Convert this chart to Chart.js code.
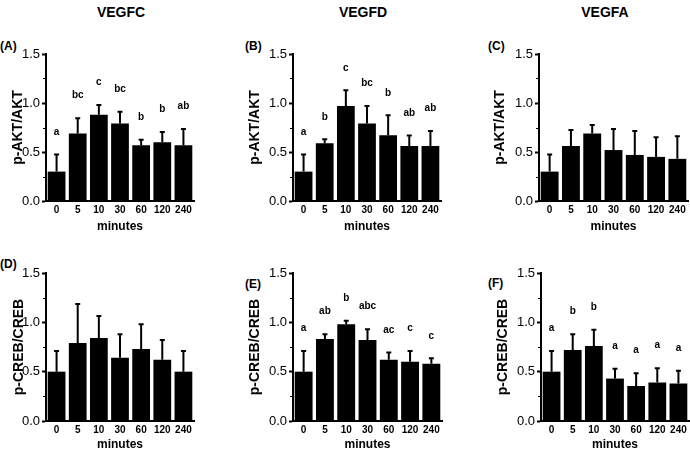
<!DOCTYPE html>
<html>
<head>
<meta charset="utf-8">
<script src="https://cdn.jsdelivr.net/npm/chart.js@4/dist/chart.umd.min.js"></script>
<style>
  body { margin: 0; background: #fff; }
  #wrap { position: relative; width: 690px; height: 450px; background: #fff; font-family: "Liberation Sans", Arial, sans-serif; color: #000; }
  #wrap canvas { position: absolute; }
  .head { position: absolute; font-size: 14px; font-weight: bold; transform: translate(-50%, -50%); white-space: nowrap; }
  .tag { position: absolute; font-size: 12px; font-weight: bold; transform: translateY(-50%); white-space: nowrap; }
</style>
</head>
<body>
<div id="wrap">
  <div class="head" style="left:121px; top:12px;">VEGFC</div>
  <div class="head" style="left:363px; top:12px;">VEGFD</div>
  <div class="head" style="left:605px; top:12px;">VEGFA</div>
  <div class="tag" style="left:0px; top:46px;">(A)</div>
  <div class="tag" style="left:245px; top:46px;">(B)</div>
  <div class="tag" style="left:488px; top:46px;">(C)</div>
  <div class="tag" style="left:0px; top:264px;">(D)</div>
  <div class="tag" style="left:245px; top:284px;">(E)</div>
  <div class="tag" style="left:488px; top:283px;">(F)</div>
</div>
<script>
// time points (minutes)
var minutes = ["0", "5", "10", "30", "60", "120", "240"];
var yTicks = [0, 0.5, 1.0, 1.5];

// p-AKT/AKT, mean and SEM
var aktVEGFC = [0.30, 0.69, 0.88, 0.79, 0.57, 0.60, 0.57];
var aktVEGFCsem = [0.18, 0.16, 0.105, 0.125, 0.06, 0.11, 0.17];
var aktVEGFCletters = ["a", "bc", "c", "bc", "b", "b", "ab"];

var aktVEGFD = [0.30, 0.59, 0.97, 0.79, 0.67, 0.56, 0.56];
var aktVEGFDsem = [0.18, 0.045, 0.165, 0.185, 0.21, 0.113, 0.16];
var aktVEGFDletters = ["a", "b", "c", "bc", "b", "ab", "ab"];

var aktVEGFA = [0.30, 0.56, 0.69, 0.52, 0.47, 0.45, 0.43];
var aktVEGFAsem = [0.18, 0.17, 0.09, 0.22, 0.25, 0.205, 0.235];

// p-CREB/CREB, mean and SEM
var crebVEGFC = [0.50, 0.79, 0.84, 0.64, 0.73, 0.62, 0.50];
var crebVEGFCsem = [0.215, 0.40, 0.23, 0.245, 0.255, 0.205, 0.215];

var crebVEGFD = [0.50, 0.83, 0.98, 0.82, 0.62, 0.60, 0.58];
var crebVEGFDsem = [0.215, 0.055, 0.04, 0.115, 0.08, 0.115, 0.06];
var crebVEGFDletters = ["a", "ab", "b", "abc", "ac", "c", "c"];

var crebVEGFA = [0.50, 0.72, 0.76, 0.43, 0.355, 0.39, 0.38];
var crebVEGFAsem = [0.215, 0.165, 0.17, 0.105, 0.135, 0.15, 0.135];
var crebVEGFAletters = ["a", "b", "b", "a", "a", "a", "a"];

Chart.defaults.font.family = "'Liberation Sans', Arial, sans-serif";
Chart.defaults.color = "#000";

// error bars (upper half only), minor ticks and letters
var extras = {
  id: "extras",
  afterDatasetsDraw: function (chart, args, opts) {
    var ctx = chart.ctx;
    var y = chart.scales.y;
    var bars = chart.getDatasetMeta(0).data;
    ctx.save();
    ctx.strokeStyle = "#000";
    ctx.fillStyle = "#000";
    bars.forEach(function (bar, i) {
      var top = y.getPixelForValue(opts.means[i] + opts.sem[i]);
      ctx.lineWidth = 2;
      ctx.beginPath();
      ctx.moveTo(bar.x, bar.y);
      ctx.lineTo(bar.x, top);
      ctx.moveTo(bar.x - 2.5, top + 0.5);
      ctx.lineTo(bar.x + 2.5, top + 0.5);
      ctx.stroke();
      if (opts.letters) {
        ctx.font = "bold 10px 'Liberation Sans', Arial, sans-serif";
        ctx.textAlign = "center";
        ctx.textBaseline = "middle";
        ctx.fillText(opts.letters[i], bar.x, top - 22);
      }
    });
    // minor ticks on y axis
    var left = chart.chartArea.left;
    ctx.lineWidth = 1;
    [0.25, 0.75, 1.25].forEach(function (v) {
      var py = Math.round(y.getPixelForValue(v)) + 0.5;
      ctx.beginPath();
      ctx.moveTo(left - 3, py);
      ctx.lineTo(left, py);
      ctx.stroke();
    });
    ctx.restore();
  }
};

var panels = [
  { left: 0, top: 25, w: 230, h: 210, pad: { left: 10, right: 36, top: 29, bottom: 3 }, yw: 36, xh: 31,
    title: "p-AKT/AKT", means: aktVEGFC, sem: aktVEGFCsem, letters: aktVEGFCletters },
  { left: 230, top: 25, w: 230, h: 210, pad: { left: 17, right: 19, top: 29, bottom: 3 }, yw: 46, xh: 31,
    title: "p-AKT/AKT", means: aktVEGFD, sem: aktVEGFDsem, letters: aktVEGFDletters },
  { left: 460, top: 25, w: 230, h: 210, pad: { left: 32, right: 2, top: 29, bottom: 3 }, yw: 47, xh: 31,
    title: "p-AKT/AKT", means: aktVEGFA, sem: aktVEGFAsem, letters: null },
  { left: 0, top: 245, w: 230, h: 205, pad: { left: 11, right: 36, top: 28, bottom: 0 }, yw: 35, xh: 29,
    title: "p-CREB/CREB", means: crebVEGFC, sem: crebVEGFCsem, letters: null },
  { left: 230, top: 245, w: 230, h: 205, pad: { left: 17, right: 18, top: 28, bottom: 0 }, yw: 46, xh: 29,
    title: "p-CREB/CREB", means: crebVEGFD, sem: crebVEGFDsem, letters: crebVEGFDletters },
  { left: 460, top: 245, w: 230, h: 205, pad: { left: 35, right: 1, top: 28, bottom: 0 }, yw: 46, xh: 29,
    title: "p-CREB/CREB", means: crebVEGFA, sem: crebVEGFAsem, letters: crebVEGFAletters }
];

var wrap = document.getElementById("wrap");

panels.forEach(function (p) {
  var canvas = document.createElement("canvas");
  canvas.width = p.w;
  canvas.height = p.h;
  canvas.style.left = p.left + "px";
  canvas.style.top = p.top + "px";
  canvas.style.width = p.w + "px";
  canvas.style.height = p.h + "px";
  wrap.appendChild(canvas);

  new Chart(canvas.getContext("2d"), {
    type: "bar",
    data: {
      labels: minutes,
      datasets: [{
        data: p.means,
        backgroundColor: "#000",
        borderWidth: 0,
        barPercentage: 0.84,
        categoryPercentage: 1
      }]
    },
    options: {
      responsive: false,
      animation: false,
      events: [],
      layout: { padding: p.pad },
      plugins: {
        legend: { display: false },
        tooltip: { enabled: false },
        extras: { means: p.means, sem: p.sem, letters: p.letters }
      },
      scales: {
        x: {
          grid: { display: false, drawTicks: false },
          border: { color: "#000", width: 2 },
          ticks: { color: "#000", font: { size: 10, weight: "bold" }, padding: 3, maxRotation: 0 },
          title: { display: true, text: "minutes", color: "#000", font: { size: 12, weight: "bold" }, padding: { top: 0, bottom: -2 } },
          afterFit: function (s) { s.height = p.xh; }
        },
        y: {
          min: 0,
          max: 1.5,
          afterBuildTicks: function (s) {
            s.ticks = yTicks.map(function (v) { return { value: v }; });
          },
          ticks: {
            color: "#000",
            font: { size: 13 },
            padding: 2,
            callback: function (v) { return v.toFixed(1); }
          },
          grid: { drawOnChartArea: false, tickLength: 4, tickWidth: 2, tickColor: "#000" },
          border: { color: "#000", width: 2 },
          title: { display: true, text: p.title, color: "#000", font: { size: 14, weight: "bold" }, padding: 0 },
          afterFit: function (s) { s.width = p.yw; }
        }
      }
    },
    plugins: [extras]
  });
});
</script>
</body>
</html>
